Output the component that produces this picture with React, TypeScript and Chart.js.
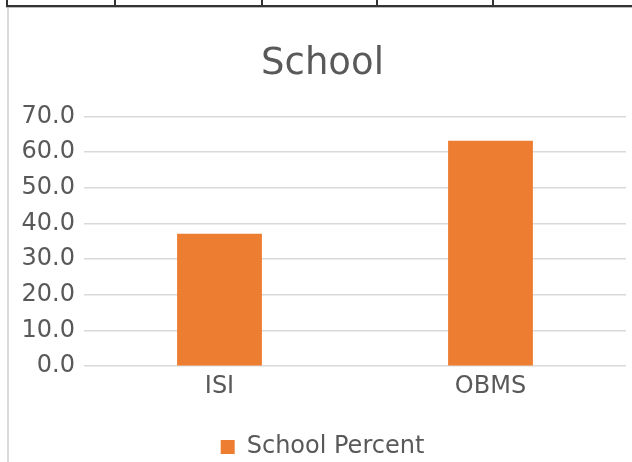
import React, { useEffect, useRef } from "react";
import { Chart, registerables } from "chart.js";

Chart.register(...registerables);

const categories = ["ISI", "OBMS"];
const schoolPercent = [37.1, 63.2];
const seriesName = "School Percent";
const chartTitle = "School";
const tableColumnEdges = [6, 114, 261, 376, 492];

const FONT = "'DejaVu Sans', sans-serif";
const TEXT = "#595959";
const GRID = "#d9d9d9";
const BAR = "#ED7D31";

export default function App() {
  const ref = useRef<HTMLCanvasElement | null>(null);

  useEffect(() => {
    if (!ref.current) return;
    const chart = new Chart(ref.current, {
      type: "bar",
      data: {
        labels: categories,
        datasets: [
          {
            label: seriesName,
            data: schoolPercent,
            backgroundColor: BAR,
            borderWidth: 0,
            categoryPercentage: 1,
            barPercentage: 0.313,
          },
        ],
      },
      options: {
        animation: false,
        responsive: false,
        maintainAspectRatio: false,
        layout: { padding: { left: 10, right: 6, top: 34, bottom: 0 } },
        plugins: {
          title: {
            display: true,
            text: chartTitle,
            color: TEXT,
            font: { family: FONT, size: 37, weight: "normal" },
            padding: { top: 0, bottom: 30 },
          },
          legend: {
            display: true,
            position: "bottom",
            labels: {
              color: TEXT,
              font: { family: FONT, size: 24 },
              boxWidth: 14,
              boxHeight: 14,
              padding: 10,
            },
          },
          tooltip: { enabled: false },
        },
        scales: {
          x: {
            grid: { display: false, drawTicks: false },
            border: { display: false },
            ticks: {
              color: TEXT,
              font: { family: FONT, size: 24 },
              padding: 6,
            },
            afterFit: (s: any) => {
              s.height += 18;
            },
          },
          y: {
            min: 0,
            max: 70,
            grid: { color: GRID, lineWidth: 1.5, drawTicks: false },
            border: { display: false },
            ticks: {
              stepSize: 10,
              color: TEXT,
              font: { family: FONT, size: 24 },
              padding: 9,
              callback: (v: any) => Number(v).toFixed(1),
            },
            afterFit: (s: any) => {
              s.width = 65;
            },
          },
        },
      },
    });
    return () => chart.destroy();
  }, []);

  return (
    <div style={{ position: "fixed", left: 0, top: 0, width: 632, height: 462, background: "#fff", overflow: "hidden" }}>
      <div style={{ position: "absolute", left: 6, top: 5, width: 626, height: 1.5, background: "#333" }} />
      <div style={{ position: "absolute", left: 6, top: 6.5, width: 626, height: 1, background: "#bbb" }} />
      {tableColumnEdges.map((x) => (
        <div key={x} style={{ position: "absolute", left: x, top: 0, width: 1.5, height: 6, background: "#333" }} />
      ))}
      <div style={{ position: "absolute", left: 7, top: 8, width: 2, height: 454, background: GRID }} />
      <canvas
        ref={ref}
        width={623}
        height={461}
        style={{ position: "absolute", left: 9, top: 8, width: 623, height: 461 }}
      />
    </div>
  );
}
